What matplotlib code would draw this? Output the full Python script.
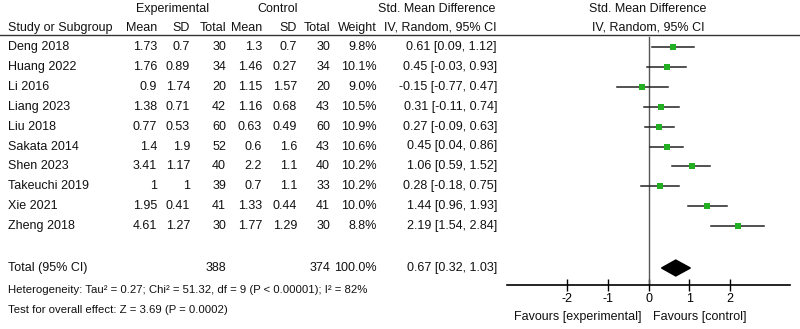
import matplotlib
matplotlib.use('Agg')
import matplotlib.pyplot as plt
from matplotlib.lines import Line2D
from matplotlib.transforms import blended_transform_factory

plt.rcParams['font.family'] = ['Liberation Sans', 'DejaVu Sans']
FS = 9

# données des études
studies = ['Deng 2018', 'Huang 2022', 'Li 2016', 'Liang 2023', 'Liu 2018',
           'Sakata 2014', 'Shen 2023', 'Takeuchi 2019', 'Xie 2021', 'Zheng 2018']
exp_mean = ['1.73', '1.76', '0.9', '1.38', '0.77', '1.4', '3.41', '1', '1.95', '4.61']
exp_sd = ['0.7', '0.89', '1.74', '0.71', '0.53', '1.9', '1.17', '1', '0.41', '1.27']
exp_n = [30, 34, 20, 42, 60, 52, 40, 39, 41, 30]
ctl_mean = ['1.3', '1.46', '1.15', '1.16', '0.63', '0.6', '2.2', '0.7', '1.33', '1.77']
ctl_sd = ['0.7', '0.27', '1.57', '0.68', '0.49', '1.6', '1.1', '1.1', '0.44', '1.29']
ctl_n = [30, 34, 20, 43, 60, 43, 40, 33, 41, 30]
weights = [9.8, 10.1, 9.0, 10.5, 10.9, 10.6, 10.2, 10.2, 10.0, 8.8]
smd = [0.61, 0.45, -0.15, 0.31, 0.27, 0.45, 1.06, 0.28, 1.44, 2.19]
ci_low = [0.09, -0.03, -0.77, -0.11, -0.09, 0.04, 0.59, -0.18, 0.96, 1.54]
ci_high = [1.12, 0.93, 0.47, 0.74, 0.63, 0.86, 1.52, 0.75, 1.93, 2.84]

total_exp, total_ctl = 388, 374
pooled, pooled_low, pooled_high = 0.67, 0.32, 1.03
heterogeneity = 'Heterogeneity: Tau\u00b2 = 0.27; Chi\u00b2 = 51.32, df = 9 (P < 0.00001); I\u00b2 = 82%'
overall = 'Test for overall effect: Z = 3.69 (P = 0.0002)'
x_ticks = [-2, -1, 0, 1, 2]

W, H = 800, 329
fig = plt.figure(figsize=(W / 100, H / 100), dpi=100)

# position des lignes (en pixels) -> axe en unités de lignes
row0, row_h = 47, 19.9
def row_of(ypix):
    return (ypix - row0) / row_h

ax_top, ax_bot = 35, 285
ax_left, ax_right = 507, 790
ax = fig.add_axes([ax_left / W, 1 - ax_bot / H, (ax_right - ax_left) / W, (ax_bot - ax_top) / H])
ax.set_xlim(-3.48, 3.48)
ax.set_ylim(row_of(ax_bot), row_of(ax_top))
for s in ['top', 'left', 'right']:
    ax.spines[s].set_visible(False)
ax.spines['bottom'].set_linewidth(1.2)
ax.set_yticks([])
ax.set_xticks(x_ticks)
ax.set_xticklabels([str(t) for t in x_ticks], fontsize=FS)
ax.tick_params(axis='x', direction='inout', length=9, width=1, pad=1)
ax.axvline(0, color='#555555', lw=1, ymin=0, ymax=(ax_bot - 37) / (ax_bot - ax_top))

# intervalles et carrés
for i in range(len(studies)):
    ax.plot([ci_low[i], ci_high[i]], [i, i], color='#222222', lw=1.1)
    ax.plot(smd[i], i, marker='s', color='#22b022', markersize=4, markeredgewidth=0)

# losange global
total_row = row_of(268)
ax.fill([pooled_low, pooled, pooled_high, pooled], [total_row, total_row - 0.4, total_row, total_row + 0.4],
        color='black')

# textes du tableau
tr = blended_transform_factory(fig.transFigure, ax.transData)
def txt(xpix, row, s, ha='right', size=FS):
    ax.text(xpix / W, row, s, transform=tr, ha=ha, va='center', fontsize=size, color='#111111',
            clip_on=False)

hdr1, hdr2 = row_of(9), row_of(28)
txt(173, hdr1, 'Experimental', ha='center')
txt(278, hdr1, 'Control', ha='center')
txt(437, hdr1, 'Std. Mean Difference', ha='center')
txt(648, hdr1, 'Std. Mean Difference', ha='center')
txt(8, hdr2, 'Study or Subgroup', ha='left')
txt(157, hdr2, 'Mean')
txt(190, hdr2, 'SD')
txt(226, hdr2, 'Total')
txt(262, hdr2, 'Mean')
txt(297, hdr2, 'SD')
txt(330, hdr2, 'Total')
txt(377, hdr2, 'Weight')
txt(497, hdr2, 'IV, Random, 95% CI')
txt(648, hdr2, 'IV, Random, 95% CI', ha='center')
fig.add_artist(Line2D([0, 1], [1 - 35 / H, 1 - 35 / H], transform=fig.transFigure, color='#333333', lw=1))

for i, name in enumerate(studies):
    txt(8, i, name, ha='left')
    txt(157, i, exp_mean[i])
    txt(190, i, exp_sd[i])
    txt(226, i, str(exp_n[i]))
    txt(262, i, ctl_mean[i])
    txt(297, i, ctl_sd[i])
    txt(330, i, str(ctl_n[i]))
    txt(377, i, f'{weights[i]:.1f}%')
    txt(497, i, f'{smd[i]:.2f} [{ci_low[i]:.2f}, {ci_high[i]:.2f}]')

txt(8, total_row, 'Total (95% CI)', ha='left')
txt(226, total_row, str(total_exp))
txt(330, total_row, str(total_ctl))
txt(377, total_row, '100.0%')
txt(497, total_row, f'{pooled:.2f} [{pooled_low:.2f}, {pooled_high:.2f}]')
txt(8, row_of(290), heterogeneity, ha='left', size=8.2)
txt(8, row_of(310), overall, ha='left', size=8.2)

fig.text(642 / W, 1 - 317 / H, 'Favours [experimental]', ha='right', va='center', fontsize=FS, color='#111111')
fig.text(653 / W, 1 - 317 / H, 'Favours [control]', ha='left', va='center', fontsize=FS, color='#111111')

fig.savefig('out.png', dpi=100, facecolor='white')
